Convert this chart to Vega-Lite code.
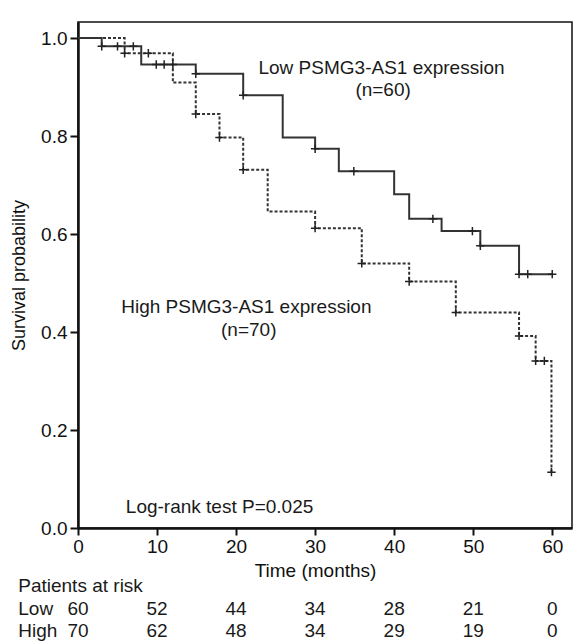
{
  "$schema": "https://vega.github.io/schema/vega-lite/v6.json",
  "width": 494,
  "height": 506,
  "autosize": {"type": "none"},
  "padding": {"left": 78, "top": 22, "right": 2, "bottom": 116},
  "background": "white",
  "config": {
    "view": {"stroke": "#111111", "strokeWidth": 1.5},
    "font": "Liberation Sans"
  },
  "datasets": {
    "curves": [
      {"group": "Low", "t": 0, "s": 1.0},
      {"group": "Low", "t": 3, "s": 0.983},
      {"group": "Low", "t": 8, "s": 0.946},
      {"group": "Low", "t": 14.9, "s": 0.927},
      {"group": "Low", "t": 20.9, "s": 0.883},
      {"group": "Low", "t": 25.9, "s": 0.797},
      {"group": "Low", "t": 30, "s": 0.774},
      {"group": "Low", "t": 33, "s": 0.728},
      {"group": "Low", "t": 40, "s": 0.681},
      {"group": "Low", "t": 41.9, "s": 0.631},
      {"group": "Low", "t": 46, "s": 0.606},
      {"group": "Low", "t": 50.9, "s": 0.576},
      {"group": "Low", "t": 55.8, "s": 0.518},
      {"group": "Low", "t": 60, "s": 0.518},
      {"group": "High", "t": 0, "s": 1.0},
      {"group": "High", "t": 5.9, "s": 0.969},
      {"group": "High", "t": 12, "s": 0.909},
      {"group": "High", "t": 14.9, "s": 0.845},
      {"group": "High", "t": 17.9, "s": 0.797},
      {"group": "High", "t": 20.9, "s": 0.731},
      {"group": "High", "t": 24, "s": 0.646},
      {"group": "High", "t": 30, "s": 0.612},
      {"group": "High", "t": 35.9, "s": 0.54},
      {"group": "High", "t": 41.9, "s": 0.503},
      {"group": "High", "t": 47.8, "s": 0.44},
      {"group": "High", "t": 55.8, "s": 0.392},
      {"group": "High", "t": 57.9, "s": 0.341},
      {"group": "High", "t": 59.9, "s": 0.114}
    ],
    "censors": [
      {"group": "Low", "t": 3, "s": 0.983},
      {"group": "Low", "t": 5, "s": 0.983},
      {"group": "Low", "t": 7, "s": 0.983},
      {"group": "Low", "t": 9.9, "s": 0.946},
      {"group": "Low", "t": 10.9, "s": 0.946},
      {"group": "Low", "t": 12, "s": 0.946},
      {"group": "Low", "t": 14.9, "s": 0.927},
      {"group": "Low", "t": 20.9, "s": 0.883},
      {"group": "Low", "t": 30, "s": 0.774},
      {"group": "Low", "t": 34.9, "s": 0.728},
      {"group": "Low", "t": 44.9, "s": 0.631},
      {"group": "Low", "t": 49.9, "s": 0.606},
      {"group": "Low", "t": 50.9, "s": 0.576},
      {"group": "Low", "t": 55.8, "s": 0.518},
      {"group": "Low", "t": 56.9, "s": 0.518},
      {"group": "Low", "t": 60, "s": 0.518},
      {"group": "High", "t": 5.9, "s": 0.969},
      {"group": "High", "t": 8.9, "s": 0.969},
      {"group": "High", "t": 14.9, "s": 0.845},
      {"group": "High", "t": 17.9, "s": 0.797},
      {"group": "High", "t": 20.9, "s": 0.731},
      {"group": "High", "t": 30, "s": 0.612},
      {"group": "High", "t": 35.9, "s": 0.54},
      {"group": "High", "t": 41.9, "s": 0.503},
      {"group": "High", "t": 47.8, "s": 0.44},
      {"group": "High", "t": 55.8, "s": 0.392},
      {"group": "High", "t": 57.9, "s": 0.341},
      {"group": "High", "t": 59, "s": 0.341},
      {"group": "High", "t": 59.9, "s": 0.114}
    ],
    "centerText": [
      {"label": "Low PSMG3-AS1 expression", "t": 38.4, "s": 0.938},
      {"label": "(n=60)", "t": 38.6, "s": 0.893},
      {"label": "High PSMG3-AS1 expression", "t": 21.3, "s": 0.451},
      {"label": "(n=70)", "t": 21.6, "s": 0.404}
    ],
    "leftText": [
      {"label": "Log-rank test P=0.025", "t": 6.05, "s": 0.043},
      {"label": "Patients at risk", "t": -7.56, "s": -0.118},
      {"label": "Low", "t": -7.56, "s": -0.166},
      {"label": "High", "t": -7.56, "s": -0.21}
    ],
    "risk": [
      {"row": "Low", "t": 0, "s": -0.166, "n": "60"},
      {"row": "Low", "t": 10, "s": -0.166, "n": "52"},
      {"row": "Low", "t": 20, "s": -0.166, "n": "44"},
      {"row": "Low", "t": 30, "s": -0.166, "n": "34"},
      {"row": "Low", "t": 40, "s": -0.166, "n": "28"},
      {"row": "Low", "t": 50, "s": -0.166, "n": "21"},
      {"row": "Low", "t": 60, "s": -0.166, "n": "0"},
      {"row": "High", "t": 0, "s": -0.21, "n": "70"},
      {"row": "High", "t": 10, "s": -0.21, "n": "62"},
      {"row": "High", "t": 20, "s": -0.21, "n": "48"},
      {"row": "High", "t": 30, "s": -0.21, "n": "34"},
      {"row": "High", "t": 40, "s": -0.21, "n": "29"},
      {"row": "High", "t": 50, "s": -0.21, "n": "19"},
      {"row": "High", "t": 60, "s": -0.21, "n": "0"}
    ]
  },
  "encoding": {
    "x": {
      "field": "t",
      "type": "quantitative",
      "scale": {"domain": [0, 62.5], "nice": false, "zero": false},
      "axis": {
        "values": [0, 10, 20, 30, 40, 50, 60],
        "title": "Time (months)",
        "grid": false,
        "domainColor": "#111111",
        "domainWidth": 2.5,
        "tickColor": "#111111",
        "tickWidth": 2,
        "tickSize": 7,
        "labelFontSize": 19,
        "labelColor": "#111111",
        "labelPadding": 2,
        "labelFlush": false,
        "labelOverlap": false,
        "titleFontSize": 19,
        "titleFontWeight": "normal",
        "titleColor": "#111111",
        "titlePadding": 5,
        "titleX": 237
      }
    },
    "y": {
      "field": "s",
      "type": "quantitative",
      "scale": {"domain": [0, 1.0327], "nice": false, "zero": false},
      "axis": {
        "values": [0, 0.2, 0.4, 0.6, 0.8, 1.0],
        "format": ".1f",
        "title": "Survival probability",
        "grid": false,
        "domainColor": "#111111",
        "domainWidth": 2.5,
        "tickColor": "#111111",
        "tickWidth": 2,
        "tickSize": 8,
        "labelFontSize": 19,
        "labelColor": "#111111",
        "labelPadding": 3,
        "labelFlush": false,
        "labelOverlap": false,
        "titleFontSize": 18,
        "titleFontWeight": "normal",
        "titleColor": "#111111",
        "titlePadding": 12
      }
    }
  },
  "layer": [
    {
      "data": {"name": "curves"},
      "mark": {"type": "line", "interpolate": "step-after", "color": "#333333", "strokeWidth": 2},
      "encoding": {
        "detail": {"field": "group"},
        "strokeDash": {
          "field": "group",
          "type": "nominal",
          "scale": {"domain": ["Low", "High"], "range": [[1, 0], [3, 2]]},
          "legend": null
        }
      }
    },
    {
      "data": {"name": "censors"},
      "mark": {"type": "point", "shape": "M-1,0L1,0M0,-1L0,1", "size": 70, "filled": false, "stroke": "#222222", "strokeWidth": 1.5, "opacity": 1}
    },
    {
      "data": {"name": "centerText"},
      "mark": {"type": "text", "align": "center", "baseline": "middle", "fontSize": 19, "color": "#1a1a1a"},
      "encoding": {"text": {"field": "label"}}
    },
    {
      "data": {"name": "leftText"},
      "mark": {"type": "text", "align": "left", "baseline": "middle", "fontSize": 19, "color": "#1a1a1a"},
      "encoding": {"text": {"field": "label"}}
    },
    {
      "data": {"name": "risk"},
      "mark": {"type": "text", "align": "center", "baseline": "middle", "fontSize": 19, "color": "#1a1a1a"},
      "encoding": {"text": {"field": "n"}}
    }
  ]
}
